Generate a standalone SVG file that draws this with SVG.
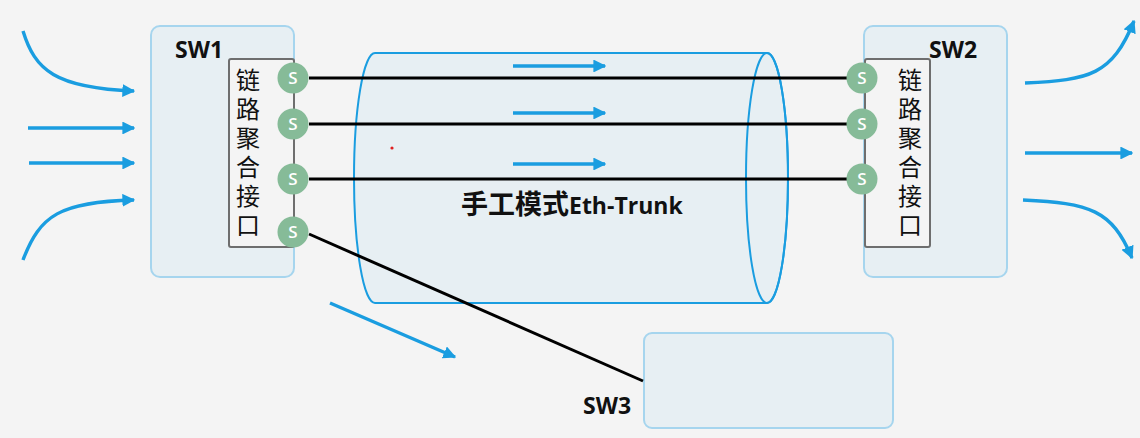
<svg xmlns="http://www.w3.org/2000/svg" width="1140" height="438" viewBox="0 0 1140 438">
<defs>
<marker id="ah" viewBox="0 0 10 10" refX="9" refY="5" markerWidth="3.8" markerHeight="3.8" orient="auto" markerUnits="strokeWidth">
<path d="M0,0 L10,5 L0,10 Z" fill="#1a9de0"/>
</marker>
<style>
.sw{fill:#e7eff3;stroke:#a6d5ee;stroke-width:2}
.inner{fill:#f4f4f4;stroke:#6e6e6e;stroke-width:2}
.port{fill:#86bb98}
.pt{font-family:"Open Sans","Liberation Sans",sans-serif;font-size:17px;font-weight:600;fill:#ffffff;text-anchor:middle}
.lbl{font-family:"Open Sans","Liberation Sans","Noto Sans CJK SC",sans-serif;font-size:23px;font-weight:bold;fill:#111}
.cjk{font-family:"Noto Sans CJK SC",sans-serif;font-size:24px;fill:#111;writing-mode:vertical-rl;letter-spacing:5px}
.flow{fill:none;stroke:#1a9de0;stroke-width:3.4;marker-end:url(#ah)}
.link{fill:none;stroke:#000;stroke-width:3}
</style>
</defs>
<rect width="1140" height="438" fill="#f4f4f4"/>

<g id="trunk">
<path d="M375,53 L767,53 A21,125 0 0 1 767,303 L375,303 A21,125 0 0 1 375,53 Z" fill="#e7eff3" stroke="#1a9de0" stroke-width="2"/>
<ellipse cx="767" cy="178" rx="21" ry="125" fill="none" stroke="#1a9de0" stroke-width="2"/>
<circle cx="392" cy="148" r="1.6" fill="#e02020"/>
</g>

<g id="sw1">
<rect class="sw" x="151" y="26" width="143" height="251" rx="9"/>
<text class="lbl" x="175" y="58">SW1</text>
<rect class="inner" x="229" y="59" width="65" height="188" rx="2"/>
<text class="cjk" x="248" y="68">链路聚合接口</text>
</g>

<g id="sw2">
<rect class="sw" x="864" y="26" width="143" height="251" rx="9"/>
<text class="lbl" x="929" y="58">SW2</text>
<rect class="inner" x="865" y="59" width="65" height="188" rx="2"/>
<text class="cjk" x="910" y="68">链路聚合接口</text>
</g>

<g id="sw3">
<rect class="sw" x="644" y="333" width="249" height="95" rx="8"/>
<text class="lbl" x="583" y="414">SW3</text>
</g>

<g id="connectors">
<line class="link" x1="309" y1="78" x2="848" y2="78"/>
<line class="link" x1="309" y1="124" x2="848" y2="124"/>
<line class="link" x1="309" y1="179" x2="848" y2="179"/>
<line class="link" x1="309" y1="234" x2="643" y2="381"/>
<path class="flow" d="M23,31 C35,70 55,88 134,91"/>
<line class="flow" x1="28" y1="128" x2="134" y2="128"/>
<line class="flow" x1="29" y1="163" x2="134" y2="163"/>
<path class="flow" d="M23,260 C40,215 60,202 134,200"/>
<line class="flow" x1="513" y1="66" x2="605" y2="66"/>
<line class="flow" x1="513" y1="113" x2="605" y2="113"/>
<line class="flow" x1="513" y1="164" x2="605" y2="164"/>
<line class="flow" x1="330" y1="303" x2="455" y2="357"/>
<path class="flow" d="M1025,83 C1090,80 1112,75 1134,21"/>
<line class="flow" x1="1025" y1="153" x2="1132" y2="153"/>
<path class="flow" d="M1023,200 C1090,203 1112,210 1132,258"/>
</g>

<g id="ports">
<circle class="port" cx="293" cy="78" r="15.5"/><text class="pt" x="293" y="84">S</text>
<circle class="port" cx="293" cy="124" r="15.5"/><text class="pt" x="293" y="130">S</text>
<circle class="port" cx="293" cy="179" r="15.5"/><text class="pt" x="293" y="185">S</text>
<circle class="port" cx="293" cy="232" r="15.5"/><text class="pt" x="293" y="238">S</text>
<circle class="port" cx="862" cy="78" r="15.5"/><text class="pt" x="862" y="84">S</text>
<circle class="port" cx="862" cy="124" r="15.5"/><text class="pt" x="862" y="130">S</text>
<circle class="port" cx="862" cy="179" r="15.5"/><text class="pt" x="862" y="185">S</text>
</g>

<g id="trunk-label">
<text x="461" y="214" style="font-weight:bold;fill:#111"><tspan style="font-family:'Noto Sans CJK SC',sans-serif;font-size:27px">手工模式</tspan><tspan style="font-family:'Open Sans','Liberation Sans',sans-serif;font-size:23px">Eth-Trunk</tspan></text>
</g>
</svg>
